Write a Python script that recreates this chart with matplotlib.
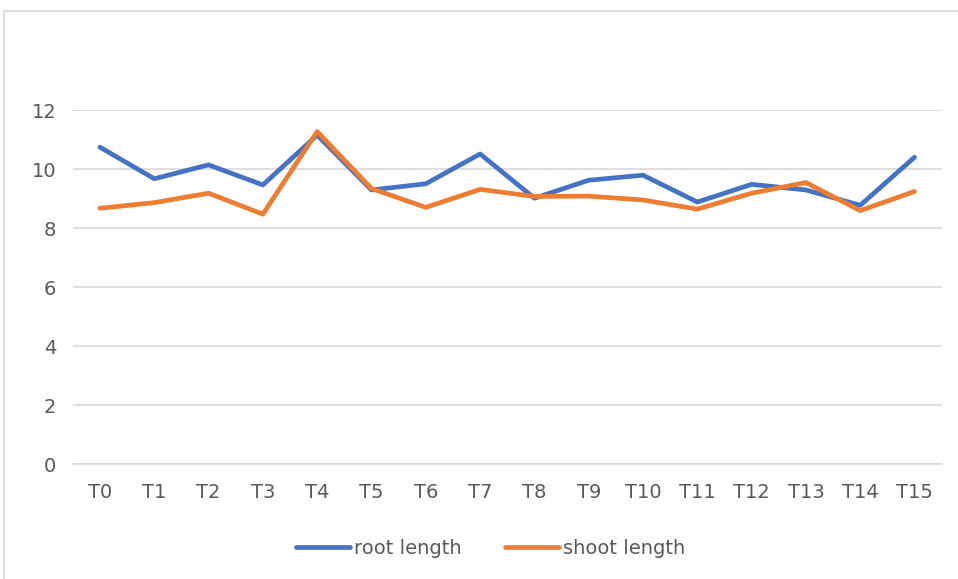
import matplotlib.pyplot as plt
from matplotlib.patches import Rectangle

# Data
categories = ['T0', 'T1', 'T2', 'T3', 'T4', 'T5', 'T6', 'T7',
              'T8', 'T9', 'T10', 'T11', 'T12', 'T13', 'T14', 'T15']
root_length = [10.74, 9.67, 10.14, 9.46, 11.15, 9.29, 9.50, 10.51,
               9.01, 9.62, 9.79, 8.88, 9.48, 9.29, 8.77, 10.40]
shoot_length = [8.67, 8.86, 9.18, 8.47, 11.27, 9.34, 8.70, 9.31,
                9.07, 9.08, 8.95, 8.64, 9.18, 9.54, 8.59, 9.24]
y_ticks = [0, 2, 4, 6, 8, 10, 12]

plt.rcParams['font.family'] = ['DejaVu Sans']

fig = plt.figure(figsize=(9.58, 5.79), dpi=100)
ax = fig.add_axes([0.076, 0.1986, 0.907, 0.6114])

x = range(len(categories))
ax.plot(x, root_length, color='#4472C4', linewidth=3.4, label='root length',
        solid_joinstyle='round', solid_capstyle='round')
ax.plot(x, shoot_length, color='#ED7D31', linewidth=3.4, label='shoot length',
        solid_joinstyle='round', solid_capstyle='round')

ax.set_xlim(-0.5, len(categories) - 0.5)
ax.set_ylim(0, 12)
ax.set_yticks(y_ticks)
ax.set_xticks(list(x))
ax.set_xticklabels(categories)

ax.grid(axis='y', color='#D9D9D9', linewidth=1.2)
ax.set_axisbelow(True)
for side in ['top', 'right', 'left']:
    ax.spines[side].set_visible(False)
ax.spines['bottom'].set_color('#D9D9D9')
ax.spines['bottom'].set_linewidth(1.2)
ax.tick_params(length=0, labelsize=14, colors='#595959')
ax.tick_params(axis='y', pad=12)
ax.tick_params(axis='x', pad=14)

leg = ax.legend(loc='center', bbox_to_anchor=(0.512, 0.0533), bbox_transform=fig.transFigure,
                ncol=2, frameon=False, fontsize=14, handlelength=2.8, handletextpad=0.2,
                columnspacing=2.2)
for t in leg.get_texts():
    t.set_color('#595959')

# outer chart frame
fig.patches.append(Rectangle((4 / 958, -0.05), 1.1, 1 - 11 / 579 + 0.05,
                             transform=fig.transFigure, fill=False,
                             edgecolor='#D9D9D9', linewidth=1.2))

fig.savefig('out.png', dpi=100)
